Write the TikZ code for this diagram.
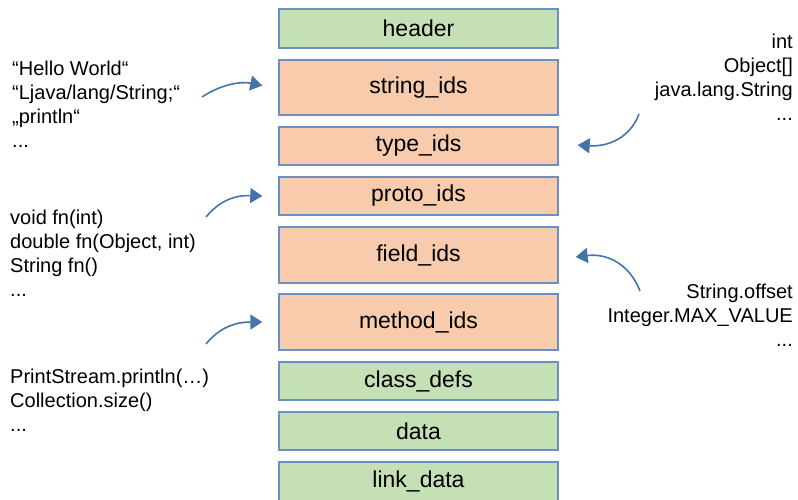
\documentclass[tikz,border=0pt]{standalone}
\usepackage{fontspec}
\setmainfont{Liberation Sans}
\usetikzlibrary{arrows.meta}
\definecolor{secgreen}{HTML}{C5E0B4}
\definecolor{secorange}{HTML}{F8CBAD}
\definecolor{secborder}{HTML}{6A8FC2}
\definecolor{arrowblue}{HTML}{4574A8}
\tikzset{
  section/.style={draw=secborder, line width=1.4pt, minimum width=279pt,
    inner sep=0pt, font=\fontsize{23}{27}\selectfont},
  fixed/.style={section, fill=secgreen},
  idtable/.style={section, fill=secorange},
  sample/.style={inner sep=0pt, font=\fontsize{20}{24}\selectfont},
  refarrow/.style={draw=arrowblue, line width=1.6pt,
    -{Triangle[length=12pt,width=15pt]}},
}
\begin{document}
\begin{tikzpicture}[x=1pt, y=-1pt]
\useasboundingbox (0,0) rectangle (798,500);

% dex file sections, top to bottom
\node[fixed,   minimum height=39pt] (header)  at (418.5,28.5) {header};
\node[idtable, minimum height=55pt] (strids)  at (418.5,87.5) {string\_ids};
\node[idtable, minimum height=38pt] (typeids) at (418.5,146)  {type\_ids};
\node[idtable, minimum height=38pt] (protoids) at (418.5,196) {proto\_ids};
\node[idtable, minimum height=56pt] (fieldids) at (418.5,255) {field\_ids};
\node[idtable, minimum height=56pt] (methodids) at (418.5,322) {method\_ids};
\node[fixed,   minimum height=38pt] (classdefs) at (418.5,381) {class\_defs};
\node[fixed,   minimum height=38pt] (datasec)  at (418.5,431) {data};
\node[fixed,   minimum height=39pt] (linkdata) at (418.5,481.5) {link\_data};

% example entries
\node[sample, align=left, anchor=north west] (strex) at (12,61)
  {“Hello World“\\“Ljava/lang/String;“\\„println“\\...};
\node[sample, align=left, anchor=north west] (protoex) at (10,210)
  {void fn(int)\\double fn(Object, int)\\String fn()\\...};
\node[sample, align=left, anchor=north west] (methodex) at (10,369)
  {PrintStream.println(…)\\Collection.size()\\...};
\node[sample, align=right, anchor=north east] (typeex) at (793,34)
  {int\\Object[]\\java.lang.String\\...};
\node[sample, align=right, anchor=north east] (fieldex) at (793,284)
  {String.offset\\Integer.MAX\_VALUE\\...};

% arrow start points beside the examples
\coordinate (strfrom)    at (202,97);
\coordinate (protofrom)  at (206,217);
\coordinate (methodfrom) at (206,344);
\coordinate (typefrom)   at (639,114);
\coordinate (fieldfrom)  at (640,291);

\draw[refarrow] (strfrom) .. controls (220,85) and (240,81) .. ([xshift=-16pt,yshift=2pt]strids.west);
\draw[refarrow] (protofrom) .. controls (220,200) and (236,195) .. ([xshift=-16pt]protoids.west);
\draw[refarrow] (methodfrom) .. controls (220,327) and (236,322) .. ([xshift=-16pt]methodids.west);
\draw[refarrow] (typefrom) .. controls (630,138) and (608,147) .. ([xshift=19pt,yshift=1pt]typeids.east);
\draw[refarrow] (fieldfrom) .. controls (630,265) and (608,253) .. ([xshift=17pt,yshift=-2pt]fieldids.east);
\end{tikzpicture}
\end{document}
